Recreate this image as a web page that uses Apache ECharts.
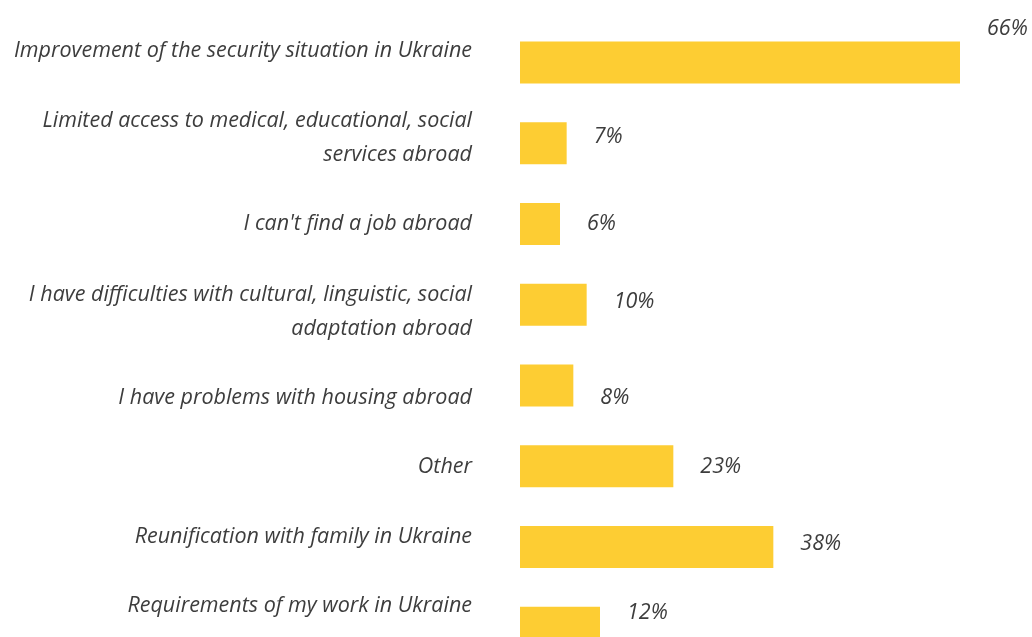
<!DOCTYPE html>
<html><head><meta charset="utf-8">
<script src="https://cdn.jsdelivr.net/npm/echarts@6/dist/echarts.min.js"></script>
<style>html,body{margin:0;padding:0;background:#fff}#c{width:1032px;height:637px}</style>
</head><body><div id="c"></div>
<script>
const categories = [
  "Improvement of the security situation in Ukraine",
  "Limited access to medical, educational, social\nservices abroad",
  "I can't find a job abroad",
  "I have difficulties with cultural, linguistic, social\nadaptation abroad",
  "I have problems with housing abroad",
  "Other",
  "Reunification with family in Ukraine",
  "Requirements of my work in Ukraine"
];
const values = [66, 7, 6, 10, 8, 23, 38, 12];
// vertical nudges (px) for category and value labels
const catShift = [-12, -5, 0, 7, 12, 1, -10, -22];
const valShift = [-34, -6, 0, -3, 12, 1, -3, -15];

const font = 'Open Sans';
const txt = '#3d3d3d';
const LH = 34;
const FS = 21.5;

// spacer lines used to nudge labels up (spacer below) or down (spacer above)
const rich = {};
catShift.forEach((s, i) => {
  rich['e' + i] = {lineHeight: Math.max(1, 2 * Math.abs(s)), fontSize: 1};
});

function catFormatter(value, index) {
  const s = catShift[index];
  if (s === 0) return value;
  const spacer = '{e' + index + '| }';
  return s < 0 ? value + '\n' + spacer : spacer + '\n' + value;
}

const chart = echarts.init(document.getElementById('c'), null, {renderer: 'canvas'});
chart.setOption({
  animation: false,
  grid: {left: 520, top: 22, width: 440, height: 646, containLabel: false, outerBoundsMode: 'none'},
  xAxis: {type: 'value', min: 0, max: 66, show: false},
  yAxis: {
    type: 'category', inverse: true, data: categories,
    axisLine: {show: false}, axisTick: {show: false}, splitLine: {show: false},
    axisLabel: {margin: 48, fontFamily: font, fontStyle: 'italic', fontSize: FS,
      color: txt, align: 'right', lineHeight: LH, formatter: catFormatter, rich: rich}
  },
  series: [{
    type: 'bar', barWidth: 42, itemStyle: {color: '#FDCD33'},
    data: values.map((v, i) => ({value: v, label: {offset: [0, valShift[i]]}})),
    label: {show: true, position: 'right', distance: 27, formatter: '{c}%',
      fontFamily: font, fontStyle: 'italic', fontSize: FS, color: txt}
  }]
});
</script></body></html>
